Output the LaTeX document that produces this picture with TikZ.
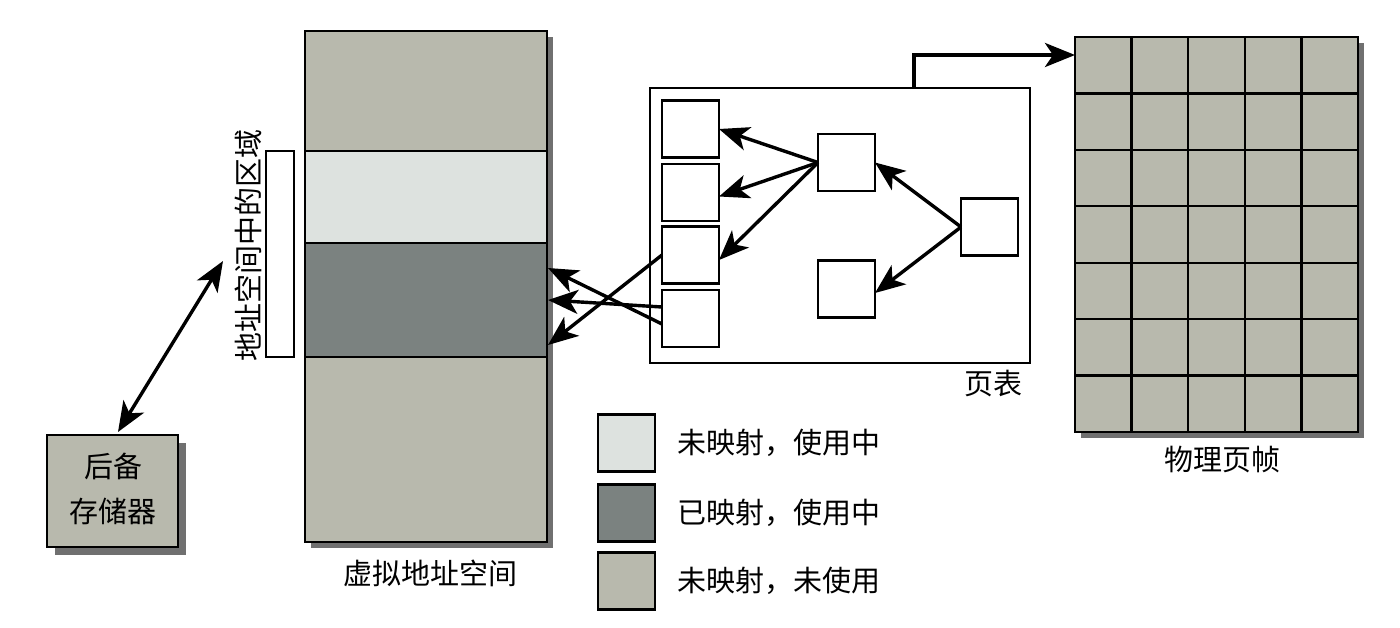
\documentclass[tikz,border=0pt]{standalone}
\usepackage{fontspec}
\newfontfamily\cjk{Noto Sans CJK SC}
\usetikzlibrary{arrows.meta,calc}
\definecolor{unusedc}{HTML}{B8B9AD}
\definecolor{lightc}{HTML}{DDE2DF}
\definecolor{darkc}{HTML}{7B8280}
\definecolor{shadowc}{HTML}{707070}
\begin{document}
\begin{tikzpicture}[x=0.5pt,y=-0.5pt,
  font=\cjk\fontsize{14.5}{17}\selectfont,
  box/.style={draw=black, line width=1.15pt, inner sep=0pt, outer sep=0pt},
  cell/.style={box, fill=white, minimum width=28.5pt, minimum height=28.5pt},
  band/.style={box, anchor=north west, minimum width=121pt},
  tip/.style={},
  arr/.style={line width=1.7pt, -{Stealth[length=15pt,width=12pt,inset=4pt]}},
  darr/.style={line width=1.7pt, {Stealth[length=15pt,width=12pt,inset=4pt]}-{Stealth[length=15pt,width=12pt,inset=4pt]}},
  lbl/.style={inner sep=0pt}]
\useasboundingbox (0,0) rectangle (1400,627);
\fill[white] (0,0) rectangle (1400,627);
% shadows
\fill[shadowc] (311,37) rectangle (553,548);
\fill[shadowc] (55,443) rectangle (186,555);
\fill[shadowc] (1081,43) rectangle (1364,438);
% virtual address space
\node[band, fill=unusedc, minimum height=60pt] (top) at (305,31) {};
\node[band, fill=lightc, minimum height=46pt] (light) at (305,151) {};
\node[band, fill=darkc, minimum height=57pt] (dark) at (305,243) {};
\node[band, fill=unusedc, minimum height=92.5pt] (bot) at (305,357) {};
\node[band, minimum height=255.5pt] (vas) at (305,31) {};
\node[lbl] (vlabel) at (430,573) {虚拟地址空间};
% region
\node[box, fill=white, anchor=north west, minimum width=14pt, minimum height=103pt] (region) at (266,151) {};
\node[lbl, rotate=90] (rlabel) at (248,245) {地址空间中的区域};
% backing store
\node[box, fill=unusedc, anchor=north west, minimum width=65.5pt, minimum height=56pt] (bs) at (47,435) {};
\node[lbl, align=center, font=\cjk\fontsize{14.5}{22.5}\selectfont] (bstext) at (113,489) {后备\\存储器};
\coordinate (da1) at (118,432);
\coordinate (da2) at (223,261);
\draw[darr] (da1) -- (da2);
% page table
\node[box, fill=white, anchor=north west, minimum width=190pt, minimum height=137.5pt] (pt) at (650,88) {};
\node[lbl] (ptl) at (993,384) {页表};
\node[cell] (c1) at (690.5,129) {};
\node[cell] (c2) at (690.5,192.5) {};
\node[cell] (c3) at (690.5,255) {};
\node[cell] (c4) at (690.5,318.5) {};
\node[cell] (A) at (846.5,162.5) {};
\node[cell] (B) at (846.5,289) {};
\node[cell] (C) at (989.5,227) {};
\draw[arr] (A.west) -- (c1.east);
\draw[arr] (A.west) -- ([yshift=-2pt]c2.east);
\draw[arr] (A.west) -- ([yshift=-2.5pt]c3.east);
\draw[arr] (C.west) -- (A.east);
\draw[arr] (C.west) -- ([yshift=-2pt]B.east);
\coordinate (v1) at (548,268);
\coordinate (v2) at (548,300);
\coordinate (v3) at (548,345);
\draw[arr] (c3.west) -- (v3);
\draw[arr] ([yshift=5.75pt]c4.west) -- (v2);
\draw[arr] ([yshift=-2.75pt]c4.west) -- (v1);
% physical frames
\node[box, fill=unusedc, anchor=north west, minimum width=141.5pt, minimum height=197.5pt] (grid) at (1075,37) {};
\foreach \i in {1,...,4}
  \draw[line width=1.15pt] ($(grid.north west)!\i/5!(grid.north east)$) -- ($(grid.south west)!\i/5!(grid.south east)$);
\foreach \j in {1,...,6}
  \draw[line width=1.15pt] ($(grid.north west)!\j/7!(grid.south west)$) -- ($(grid.north east)!\j/7!(grid.south east)$);
\node[lbl] (glabel) at (1222,460) {物理页帧};
\draw[arr, line width=2pt] ([xshift=37pt]pt.north) |- ([yshift=-9pt]grid.north west);
% legend
\node[cell, fill=lightc] (l1) at (626.5,443) {};
\node[cell, fill=darkc] (l2) at (626.5,513) {};
\node[cell, fill=unusedc] (l3) at (626.5,581) {};
\node[lbl, anchor=west, xshift=11pt] (t1) at (l1.east) {未映射，使用中};
\node[lbl, anchor=west, xshift=11pt] (t2) at (l2.east) {已映射，使用中};
\node[lbl, anchor=west, xshift=11pt] (t3) at (l3.east) {未映射，未使用};
\end{tikzpicture}
\end{document}
